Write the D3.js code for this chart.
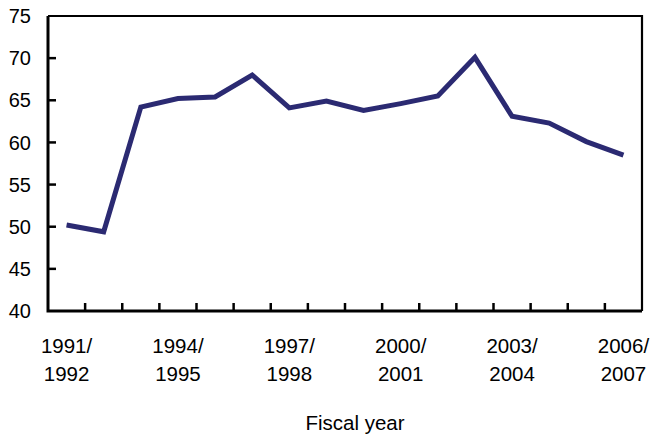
<!DOCTYPE html>
<html><head><meta charset="utf-8">
<script src="https://cdn.jsdelivr.net/npm/d3@7"></script>
<style>body{margin:0;background:#fff}svg{display:block}text{font-family:"Liberation Sans",Arial,Helvetica,sans-serif;fill:#000}</style>
</head><body>
<svg id="c" width="650" height="438"></svg>
<script>
const years = ["1991/1992","1992/1993","1993/1994","1994/1995","1995/1996","1996/1997","1997/1998","1998/1999","1999/2000","2000/2001","2001/2002","2002/2003","2003/2004","2004/2005","2005/2006","2006/2007"];
const values = [50.2,49.4,64.2,65.2,65.4,68.0,64.1,64.9,63.8,64.6,65.5,70.1,63.1,62.3,60.1,58.5];
const yTicks = [40,45,50,55,60,65,70,75];
const labelYears = ["1991/1992","1994/1995","1997/1998","2000/2001","2003/2004","2006/2007"];
const xTitle = "Fiscal year";

const svg = d3.select("#c");
const L=48,R=642,T=16,B=311;
const x = d3.scaleBand().domain(years).range([L,R]);
const y = d3.scaleLinear().domain([40,75]).range([B,T]);

// y tick labels
svg.append("g").selectAll("text").data(yTicks).join("text")
  .attr("x",31).attr("y",d=>y(d)).attr("dy","0.36em").attr("text-anchor","end")
  .attr("font-size",20).text(d=>d);
// y ticks (inward)
svg.append("g").selectAll("line").data(yTicks.slice(1,-1)).join("line")
  .attr("x1",L).attr("x2",L+8).attr("y1",d=>y(d)).attr("y2",d=>y(d))
  .attr("stroke","#000").attr("stroke-width",2.5);
// x ticks at band boundaries (inward)
svg.append("g").selectAll("line").data(years.slice(1)).join("line")
  .attr("x1",d=>x(d)).attr("x2",d=>x(d)).attr("y1",B).attr("y2",B-8)
  .attr("stroke","#000").attr("stroke-width",2.5);
// frame
svg.append("path").attr("d",`M${L},${T}H${R}V${B}`).attr("fill","none").attr("stroke","#000").attr("stroke-width",2.2);
svg.append("path").attr("d",`M${L},${T}V${B}H${R}`).attr("fill","none").attr("stroke","#000").attr("stroke-width",3);

// x labels
const xl = svg.append("g").selectAll("text").data(labelYears).join("text")
  .attr("text-anchor","middle").attr("font-size",20.5)
  .attr("transform",d=>`translate(${x(d)+x.bandwidth()/2},0)`);
xl.append("tspan").attr("x",0).attr("y",353).text(d=>d.split("/")[0]+"/");
xl.append("tspan").attr("x",0).attr("y",381).text(d=>d.split("/")[1]);

svg.append("text").attr("x",355).attr("y",430).attr("text-anchor","middle").attr("font-size",20.5).text(xTitle);

// line
svg.append("path").datum(values)
  .attr("d",d3.line().x((d,i)=>x(years[i])+x.bandwidth()/2).y(d=>y(d)))
  .attr("fill","none").attr("stroke","#2b2a72").attr("stroke-width",5).attr("stroke-linejoin","miter");
</script>
</body></html>
